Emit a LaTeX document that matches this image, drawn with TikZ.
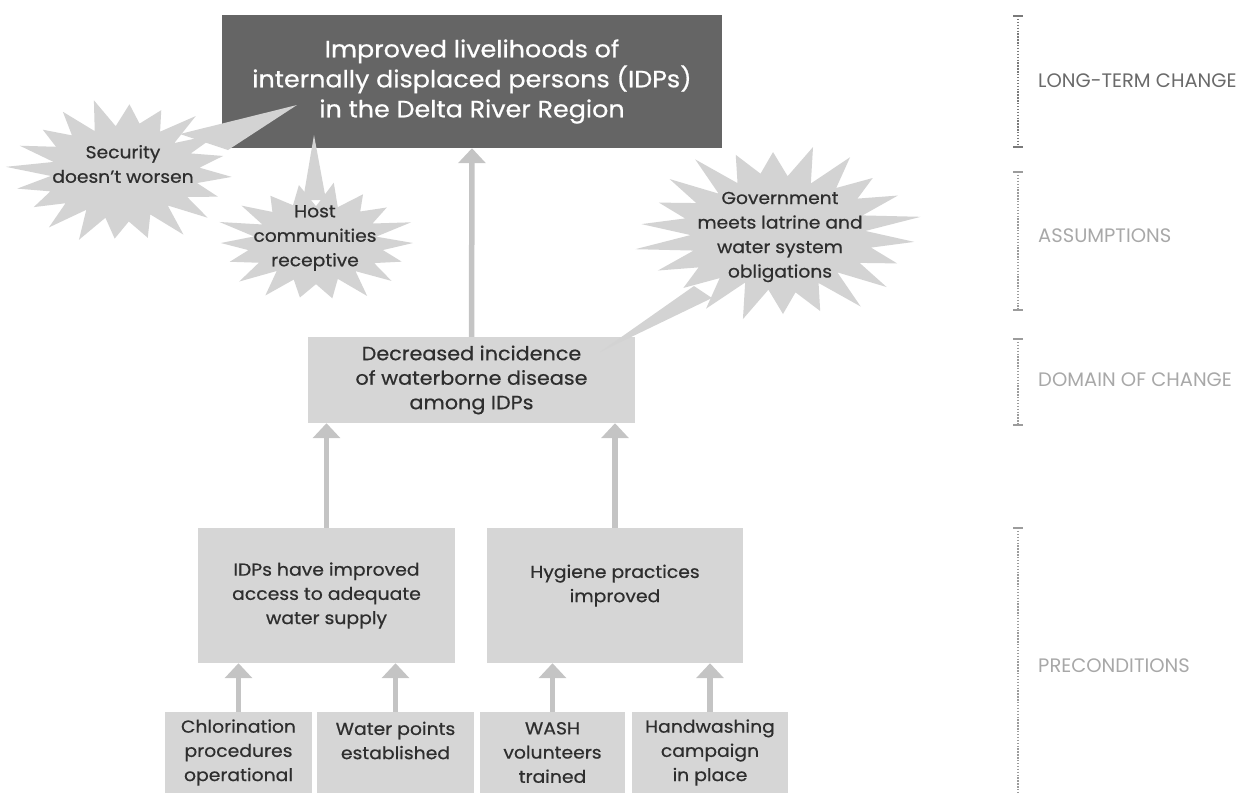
\documentclass[tikz,border=0pt]{standalone}
\usepackage{fontspec}
\setmainfont{Poppins}[FakeBold=0.6, FakeStretch=1.08]
\newfontfamily\levelfont{Poppins}
\usetikzlibrary{arrows.meta,calc}

\definecolor{darkbox}{HTML}{656565}
\definecolor{lightbox}{HTML}{D6D6D6}
\definecolor{arrowgray}{HTML}{C4C4C4}
\definecolor{burstgray}{HTML}{D3D3D3}
\definecolor{inkdark}{HTML}{2E2E2E}
\definecolor{labeldark}{HTML}{6A6A6A}
\definecolor{labellight}{HTML}{A8A8A8}
\definecolor{bardark}{HTML}{7A7A7A}
\definecolor{barlight}{HTML}{9C9C9C}

\tikzset{
  goalbox/.style={fill=darkbox, text=white, align=center, inner sep=0pt,
    minimum width=500, minimum height=133, font=\fontsize{23.5}{30}\selectfont},
  midbox/.style={fill=lightbox, text=inkdark, align=center, inner sep=0pt,
    font=\fontsize{17.4}{24.2}\selectfont},
  domainbox/.style={midbox, font=\fontsize{19.2}{24.5}\selectfont},
  burstlabel/.style={text=inkdark, align=center, inner sep=0pt,
    font=\fontsize{17.3}{24.5}\selectfont},
  upflow/.style={draw=arrowgray, line width=5.5pt,
    -{Triangle[width=27pt, length=15pt]}},
  tail/.style={fill=burstgray},
  levelbar/.style={line width=2.4pt, dash pattern=on 1.4pt off 1.5pt},
  levelcap/.style={line width=2.4pt},
  levellabel/.style={anchor=west, inner sep=0pt, font=\levelfont\fontsize{19.5}{20}\selectfont},
}

% spiky callout: centre x, centre y, radius x, radius y, spikes, rotation
\newcommand\spikyburst[6]{%
  \pgfmathtruncatemacro\burstlast{2*#5-1}%
  \fill[burstgray] plot[variable=\k, samples at={0,1,...,\burstlast}]
    ({#1+(1-0.33*mod(\k,2))*(1+0.06*sin(\k*131))*#3*cos(\k*180/#5+#6)},
     {#2+(1-0.33*mod(\k,2))*(1+0.06*sin(\k*131))*#4*sin(\k*180/#5+#6)}) -- cycle;%
}

\begin{document}
\begin{tikzpicture}[x=1pt, y=-1pt]
\useasboundingbox (0,0) rectangle (1239,793);

% long-term change
\node[goalbox] (goal) at (472,81.5)
  {Improved livelihoods of\\internally displaced persons (IDPs)\\in the Delta River Region};

% domain of change
\node[domainbox, minimum width=327, minimum height=86] (decr) at (471.5,380)
  {Decreased incidence\\of waterborne disease\\among IDPs};

% preconditions
\node[midbox, minimum width=257, minimum height=135] (water) at (326.5,595.5)
  {IDPs have improved\\access to adequate\\water supply};
\node[midbox, minimum width=256, minimum height=135] (hygiene) at (615,595.5)
  {Hygiene practices\\improved\\~};

\node[midbox, minimum width=147, minimum height=81] (chlor) at (238.5,752.5)
  {Chlorination\\procedures\\operational};
\node[midbox, minimum width=157, minimum height=81] (points) at (395.5,752.5)
  {Water points\\established\\~};
\node[midbox, minimum width=145, minimum height=81] (wash) at (552.5,752.5)
  {WASH\\volunteers\\trained};
\node[midbox, minimum width=156, minimum height=81] (handw) at (710,752.5)
  {Handwashing\\campaign\\in place};

% upward links
\draw[upflow] (decr.north) -- (goal.south);
\draw[upflow] (water.north) -- (water.north |- decr.south);
\draw[upflow] (hygiene.north) -- (hygiene.north |- decr.south);
\draw[upflow] (chlor.north) -- (chlor.north |- water.south);
\draw[upflow] (points.north) -- (points.north |- water.south);
\draw[upflow] (wash.north) -- (wash.north |- hygiene.south);
\draw[upflow] (handw.north) -- (handw.north |- hygiene.south);

% assumptions
\coordinate (sectip) at (297,105);
\coordinate (hosttip) at (314,135);
\coordinate (govtip) at (600,352);

\spikyburst{122}{172}{110}{70}{20}{4}
\fill[tail] (180,134) -- (sectip) -- (228,150) -- cycle;
\node[burstlabel] (security) at (123,164) {Security\\doesn't worsen};

\spikyburst{316}{243}{97}{58}{18}{0}
\fill[tail] (303,200) -- (hosttip) -- (326,200) -- cycle;
\node[burstlabel] (host) at (315,238) {Host\\communities\\receptive};

\spikyburst{778}{233}{137}{85}{22}{6}
\fill[tail] (694,286) -- (govtip) -- (712,298) -- cycle;
\node[burstlabel] (gov) at (780,237) {Government\\meets latrine and\\water system\\obligations};

% level scale on the right
\coordinate (l1t) at (1018,16);  \coordinate (l1b) at (1018,147);
\coordinate (l2t) at (1018,172); \coordinate (l2b) at (1018,310);
\coordinate (l3t) at (1018,339); \coordinate (l3b) at (1018,425);
\coordinate (l4t) at (1018,528); \coordinate (l4b) at (1018,793);

\draw[levelbar, draw=bardark] (l1t) -- (l1b);
\draw[levelcap, draw=bardark] ($(l1t)+(-5,0)$) -- ($(l1t)+(5,0)$);
\draw[levelcap, draw=bardark] ($(l1b)+(-5,0)$) -- ($(l1b)+(5,0)$);
\draw[levelbar, draw=barlight] (l2t) -- (l2b);
\draw[levelcap, draw=barlight] ($(l2t)+(-5,0)$) -- ($(l2t)+(5,0)$);
\draw[levelcap, draw=barlight] ($(l2b)+(-5,0)$) -- ($(l2b)+(5,0)$);
\draw[levelbar, draw=barlight] (l3t) -- (l3b);
\draw[levelcap, draw=barlight] ($(l3t)+(-5,0)$) -- ($(l3t)+(5,0)$);
\draw[levelcap, draw=barlight] ($(l3b)+(-5,0)$) -- ($(l3b)+(5,0)$);
\draw[levelbar, draw=barlight] (l4t) -- (l4b);
\draw[levelcap, draw=barlight] ($(l4t)+(-5,0)$) -- ($(l4t)+(5,0)$);

\node[levellabel, text=labeldark] (lvl1) at (1038,81) {LONG-TERM CHANGE};
\node[levellabel, text=labellight] (lvl2) at (1038,236) {ASSUMPTIONS};
\node[levellabel, text=labellight] (lvl3) at (1038,380) {DOMAIN OF CHANGE};
\node[levellabel, text=labellight] (lvl4) at (1038,666) {PRECONDITIONS};
\end{tikzpicture}
\end{document}
